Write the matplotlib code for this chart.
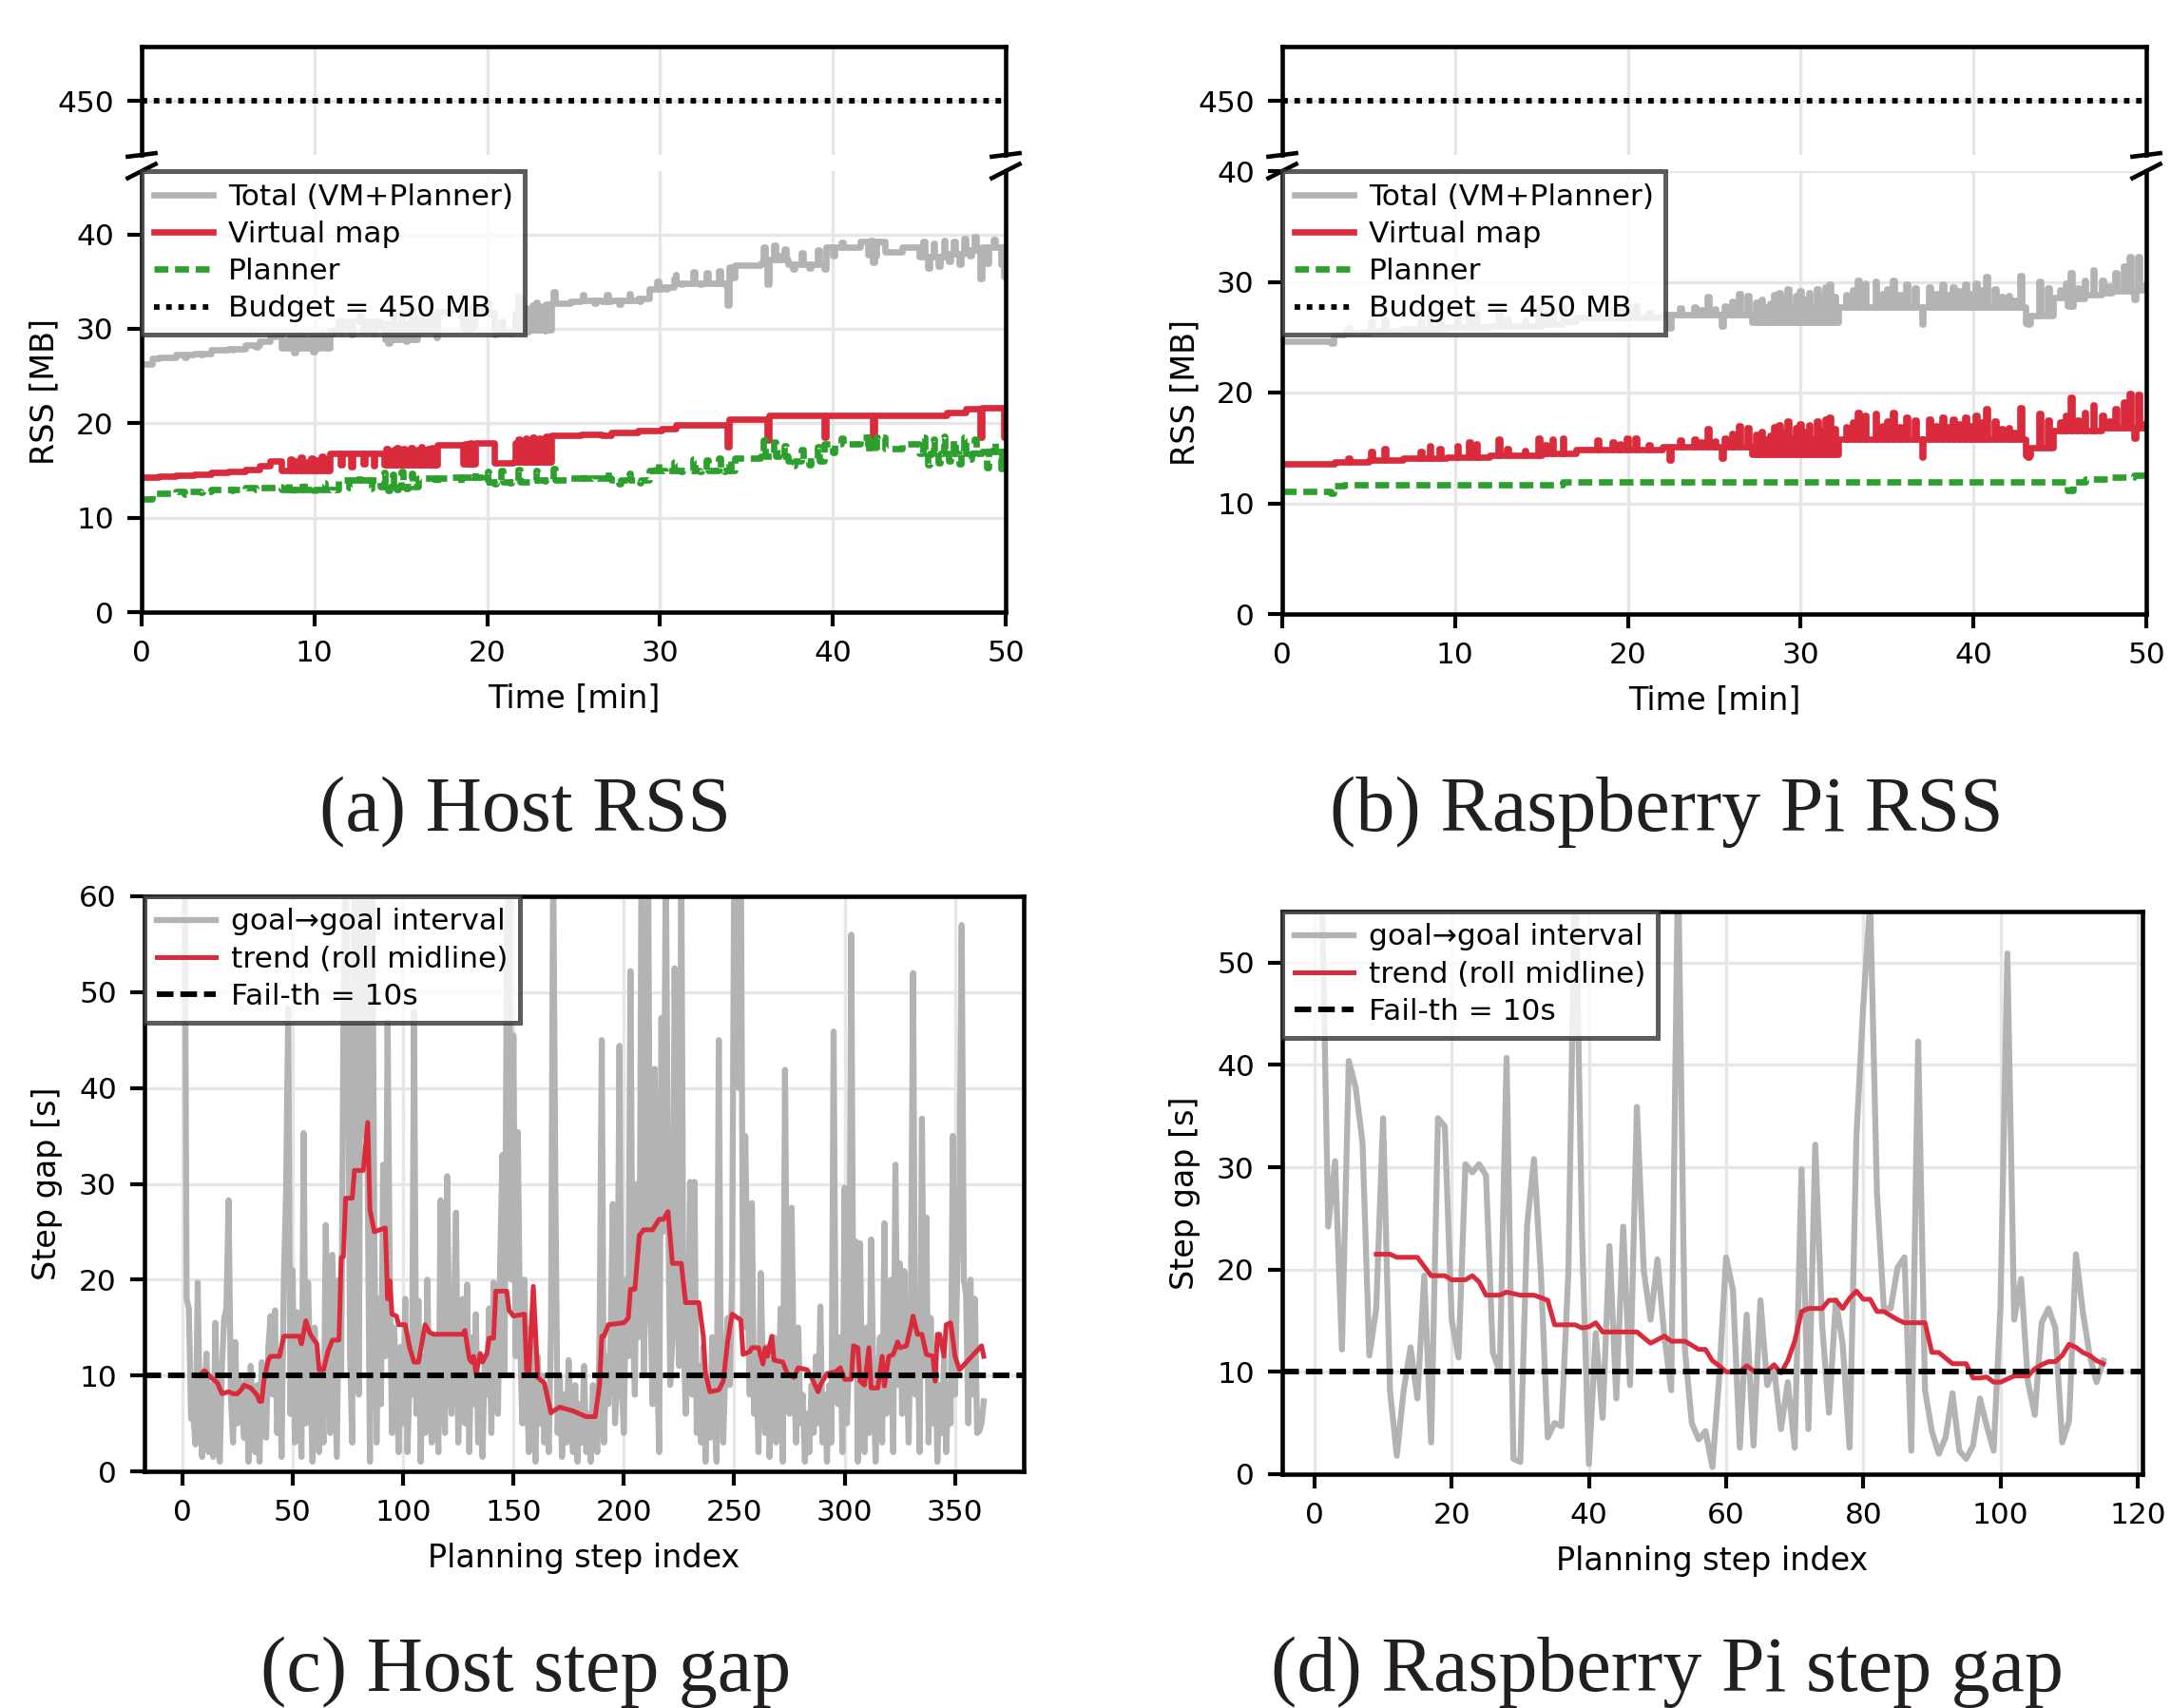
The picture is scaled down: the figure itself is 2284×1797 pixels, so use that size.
import numpy as np
import matplotlib
matplotlib.use("Agg")
import matplotlib.pyplot as plt
from matplotlib.lines import Line2D

# ------------------------------------------------------------------ data
# (a) Host RSS  -- step series: base levels + short excursions (spikes)
host_vm_base_t = [0, 1, 2, 3, 4, 5, 6, 6.8, 7.4, 8.1, 10.9, 14.0, 17.1, 18.6, 19.3, 20.4,
                  21.5, 23.7, 25.4, 26.6, 27.2, 28.7, 30.1, 30.9, 33.9, 36.2, 46.6, 47.7, 48.5]
host_vm_base_v = [14.3, 14.4, 14.5, 14.6, 14.75, 14.9, 15.05, 15.5, 16.0, 15.0, 16.8, 15.6, 17.7,
                  15.7, 17.9, 15.8, 15.9, 18.7, 18.85, 18.7, 19.0, 19.25, 19.45, 19.85, 20.45,
                  20.8, 21.1, 21.5, 21.6]
host_vm_spike_t = [8.6, 8.9, 9.2, 9.5, 9.8, 10.1, 10.4, 10.7,
                   11.5, 12.1, 12.8, 13.4,
                   14.15, 14.35, 14.55, 14.75, 14.95, 15.15, 15.35, 15.55, 15.75, 15.95, 16.15,
                   16.35, 16.55, 16.75, 16.95,
                   18.7, 18.85, 19.0, 19.15,
                   21.6, 21.8, 22.0, 22.2, 22.4, 22.6, 22.8, 23.0, 23.2, 23.4, 23.55,
                   33.9, 36.2, 39.5, 42.3, 48.5, 49.9]
host_vm_spike_v = [16.2, 16.0, 16.4, 15.9, 16.3, 16.1, 16.5, 16.2,
                   15.6, 15.4, 15.7, 15.5,
                   17.3, 16.9, 17.2, 17.4, 16.8, 17.3, 17.1, 17.4, 16.9, 17.2, 17.5,
                   17.0, 17.3, 17.4, 17.1,
                   17.8, 17.5, 17.9, 17.6,
                   17.9, 18.3, 17.6, 18.4, 18.0, 18.5, 17.8, 18.4, 18.1, 18.6, 18.0,
                   17.5, 18.2, 18.5, 18.5, 18.5, 18.5]

host_pl_base_t = [0, 0.6, 2, 4, 6, 7.8, 8.1, 11.4, 13.8, 16.0, 17.8, 19.7, 22.5, 24.8, 27.2,
                  29.4, 31.6, 34.3, 35.8, 37.4, 39.5, 41.6, 43.0, 44.0, 45.0, 48.6]
host_pl_base_v = [12.0, 12.6, 12.8, 13.0, 13.2, 13.3, 13.0, 14.0, 13.3, 14.15, 14.3, 13.8, 14.0,
                  14.2, 14.0, 15.0, 15.0, 16.3, 16.5, 16.0, 17.8, 18.5, 17.3, 17.8, 16.8, 17.0]
host_pl_spike_t = [2.5, 3.4, 5.2, 6.6,
                   8.4, 8.8, 9.3, 9.9, 10.5, 11.0,
                   12.0, 12.6, 13.2,
                   14.0, 14.25, 14.5, 14.75, 15.0, 15.3, 15.6,
                   17.0, 18.5, 19.2,
                   20.0, 20.4, 20.8, 21.3, 21.8, 22.3, 22.8, 23.3, 23.8, 24.3,
                   25.5, 26.2, 26.9, 27.6, 28.2, 28.8,
                   29.8, 30.3, 30.8, 31.2,
                   31.9, 32.3, 32.7, 33.0, 33.4, 33.7, 34.0,
                   36.0, 36.3, 36.6, 36.9, 37.2,
                   37.7, 38.2, 38.6, 39.1,
                   40.0, 40.5, 42.0, 42.2, 42.4, 42.6,
                   45.2, 45.5, 45.8, 46.1, 46.4, 46.7, 47.0, 47.3, 47.6, 47.9, 48.2,
                   48.9, 49.3, 49.7]
host_pl_spike_v = [12.5, 12.7, 12.9, 13.0,
                   13.8, 12.5, 13.9, 12.6, 13.7, 12.7,
                   13.2, 14.6, 13.1,
                   14.8, 12.9, 14.6, 13.0, 14.9, 13.1, 14.7,
                   13.5, 13.6, 14.8,
                   14.9, 13.6, 15.0, 13.7, 15.1, 13.8, 15.0, 13.9, 15.2, 14.0,
                   14.8, 13.9, 14.9, 13.6, 14.7, 13.7,
                   15.8, 14.8, 15.9, 14.9,
                   16.2, 14.9, 16.1, 15.0, 16.3, 14.9, 16.1,
                   18.2, 16.5, 18.0, 16.9, 17.6,
                   15.5, 17.2, 15.6, 17.5,
                   16.9, 18.4, 17.0, 18.6, 16.9, 18.4,
                   18.5, 15.6, 18.3, 15.8, 18.6, 16.0, 18.2, 15.7, 18.5, 16.2, 18.3,
                   15.3, 17.9, 15.2]

# (b) Raspberry Pi RSS
pi_vm_base_t = [0, 3, 5, 7, 9.5, 12, 15, 17, 22, 27.2, 32.2, 43.0, 43.3, 44.6, 47.5]
pi_vm_base_v = [13.55, 13.7, 13.9, 14.05, 14.2, 14.35, 14.5, 14.85, 15.1, 14.4, 15.8, 14.3,
                15.0, 16.6, 16.8]
pi_vm_spike_t = [3.8, 5.1, 5.9, 8.0, 8.5, 9.1, 10.1, 10.8, 11.2, 12.5, 13.0, 14.0, 14.8, 15.2,
                 15.6, 16.2, 18.2, 19.1, 19.5, 19.9, 20.4, 21.2, 23.0, 23.8, 24.2, 24.6, 25.0,
                 25.6, 26.0, 26.4, 26.9,
                 27.4, 27.7, 27.95, 28.2, 28.45, 28.7, 28.95, 29.2, 29.45, 29.7, 29.95, 30.2,
                 30.45, 30.7, 30.9, 31.15, 31.4, 31.65, 31.9,
                 32.6, 33.0, 33.3, 33.7, 34.3, 34.7, 35.0, 35.3, 35.7, 36.1, 36.6, 37.4, 37.8,
                 38.2, 38.5, 38.8, 39.1, 39.5, 39.8, 40.1, 40.4, 40.7, 41.2, 41.6, 42.0, 42.3,
                 42.7, 43.8, 44.3,
                 45.0, 45.3, 45.6, 46.0, 46.4, 46.9, 47.4, 47.8, 48.2, 48.7, 49.0, 49.3, 49.5,
                 49.75,
                 22.4, 25.4, 37.0, 43.15]
pi_vm_spike_v = [14.1, 14.7, 14.9, 14.7, 15.2, 14.9, 15.2, 15.5, 15.4, 15.8, 14.9, 14.8, 15.9,
                 15.3, 15.8, 15.9, 15.7, 15.5, 15.4, 15.9, 15.9, 15.3, 15.7, 15.8, 15.5, 16.7,
                 15.6, 15.9, 16.3, 17.0, 16.8,
                 16.2, 16.5, 15.8, 16.1, 16.9, 17.1, 16.4, 17.4, 15.9, 16.8, 17.2, 16.5,
                 17.1, 15.8, 17.4, 16.6, 17.6, 17.8, 16.7,
                 16.9, 17.3, 18.2, 17.9, 18.1, 17.0, 17.4, 18.2, 16.9, 17.8, 17.5, 17.6, 17.0,
                 17.8, 16.9, 17.6, 17.2, 17.8, 17.0, 17.9, 17.3, 18.5, 17.4, 16.7, 16.8, 16.4,
                 18.6, 18.1, 17.5,
                 17.3, 17.9, 19.6, 17.5, 18.2, 18.9, 17.9, 17.4, 18.5, 19.1, 19.9, 15.9, 19.8,
                 17.2,
                 13.9, 14.1, 14.2, 14.2]

pi_pl_base_t = [0, 2.8, 2.95, 3.6, 16.2, 45.45, 45.75, 46.5, 48.0, 49.3]
pi_pl_base_v = [11.05, 10.9, 11.55, 11.7, 11.95, 11.2, 11.9, 12.2, 12.35, 12.5]
pi_pl_spike_t = []
pi_pl_spike_v = []

budget_mb = 450

# (c) Host step gap, planning step index 1..363
host_gap = [
    70, 18, 17, 5.5, 6, 2.8, 19.7, 6, 1.5, 8,
    12.3, 2, 9, 1.5, 15.5, 4, 1, 11, 16, 17,
    28.3, 8, 3, 13.5, 5, 9.5, 7, 3.5, 10, 1,
    11, 6, 2, 9, 1, 11.4, 5, 3.5, 13, 16.2,
    8, 16.8, 4, 12, 1.5, 20, 29, 48.3, 6, 21,
    3, 16.6, 8, 1.5, 35.3, 5, 19.7, 10, 1, 15,
    7, 2, 11, 3, 25.7, 14, 4, 22.6, 12, 1.5,
    20, 10, 47.5, 65, 50, 12, 3, 65, 20, 8,
    65, 35, 65, 30, 1, 65, 25, 3, 18, 7,
    32, 12, 47, 20.6, 4, 15, 9, 2, 13, 5,
    18, 2, 10, 8, 47.9, 6, 17.8, 1, 12, 4,
    20, 7, 3, 14, 9, 2, 28.3, 10, 4, 30.8,
    12, 6, 16, 27, 3, 11, 18, 5, 19.5, 2,
    14, 7, 16.4, 3, 10, 1.5, 12, 8, 17, 4,
    19.7, 9, 6, 22, 33, 10, 55, 65, 20, 45.5,
    12, 35.4, 14, 5, 20, 9, 2, 15, 7, 1,
    12, 5, 10, 3, 8, 2, 15, 65, 30, 4,
    10, 1.5, 8, 3, 11.6, 5, 2, 9, 1, 7,
    3, 11, 2, 6, 1, 9, 4, 2, 14, 45,
    3, 12, 7, 14, 27.9, 5, 10, 44.4, 9, 4,
    20, 12, 52.2, 16, 8, 30, 14, 65, 10, 22,
    65, 18, 7, 42, 12, 2, 47.3, 25, 65, 30,
    9, 14, 52.5, 20, 11, 65, 15, 6, 12, 30.2,
    8, 30.2, 4, 11, 3, 13, 1, 9, 3.5, 14,
    6, 1, 45, 8, 3, 11, 16, 9, 20, 65,
    65, 40, 65, 15, 35, 20, 8, 28, 6, 12,
    2, 20.7, 10, 4, 13, 1.5, 9, 14, 3, 7,
    17, 1, 41.9, 12, 6, 27.5, 10, 3, 15, 5,
    8, 1, 6, 2, 9, 4, 12, 5, 17.2, 3,
    8, 1, 9, 3, 45.9, 10, 7, 14, 2, 29.6,
    5, 12, 56, 11, 24, 1, 23.8, 6, 2, 15,
    4, 24.2, 10, 1, 8, 14, 3, 25.9, 6, 10,
    20, 2, 32, 9, 21.7, 6, 20.9, 12, 3, 18,
    52, 8, 14, 2, 36.8, 10, 26.5, 3, 16, 5,
    13, 1, 9, 4, 12, 2, 9, 5, 35, 8,
    20.7, 30, 57, 20, 18.4, 5, 20, 8, 18, 4,
    4.2, 5, 7.3]
host_trend_x = [8, 10, 11, 13, 16, 18, 21, 23, 25, 27, 28, 30, 31, 33, 34, 35, 36, 37, 39, 40,
                44, 46, 53, 54, 56, 58, 60, 61, 62, 64, 66, 68, 71, 72, 73, 74, 77, 78, 82, 84,
                85, 87, 92, 93, 94, 95, 97, 98, 101, 103, 105, 107, 110, 112, 114, 127, 128,
                130, 131, 132, 133, 135, 136, 138, 139, 141, 142, 147, 148, 150, 155, 156, 157,
                159, 161, 164, 167, 168, 171, 177, 183, 187, 189, 190, 191, 193, 200, 202, 203,
                205, 207, 209, 213, 216, 218, 220, 222, 226, 228, 234, 236, 237, 239, 243, 245,
                247, 249, 253, 254, 257, 258, 261, 263, 264, 265, 267, 268, 272, 274, 277, 279,
                283, 285, 288, 289, 292, 296, 298, 300, 303, 304, 306, 307, 309, 311, 312, 315,
                317, 318, 320, 322, 324, 325, 328, 330, 331, 333, 335, 337, 340, 341, 342, 343,
                345, 346, 348, 350, 352, 362, 363]
host_trend_y = [10.0, 10.5, 10.3, 9.8, 9.2, 8.1, 8.3, 8.1, 8.1, 8.6, 9.0, 8.8, 8.7, 8.2, 7.9,
                7.3, 7.3, 9.5, 11.6, 12.0,
                12.0, 14.1, 14.1, 13.3, 15.7, 14.3, 13.6, 13.3, 10.6, 10.6, 12.5, 13.7, 13.7,
                22.3, 22.4, 28.5, 28.5, 31.4, 31.4, 36.4,
                27.3, 25.0, 25.4, 18.0, 19.9, 16.4, 16.2, 15.3, 15.3, 12.9, 11.4, 11.4, 15.3,
                14.5, 14.3, 14.3, 14.7,
                11.8, 11.4, 12.0, 10.2, 12.3, 11.4, 12.3, 13.9, 13.9, 18.8, 18.8, 16.8, 16.2,
                16.4, 10.2, 10.2,
                19.3, 9.8, 9.2, 6.1, 6.3, 6.7, 6.3, 5.7, 5.7, 9.0, 14.1, 14.1, 15.3, 15.5, 16.0,
                19.0,
                19.0, 24.6, 25.2, 25.2, 26.3, 26.3, 27.1, 21.7, 21.7, 17.6, 17.6, 14.1, 10.2,
                8.3, 8.5, 9.4,
                13.5, 16.4, 15.8, 12.2, 12.5, 12.9, 12.9, 11.2, 12.9, 12.0, 14.1, 11.6, 11.4,
                10.2, 9.8, 10.8,
                10.6, 9.8, 8.3, 9.0, 10.2, 10.4, 10.8, 9.6, 9.6, 13.1, 12.9, 9.4, 9.0, 12.9,
                8.7, 8.7,
                12.0, 8.9, 12.0, 12.2, 13.5, 12.9, 13.1, 15.1, 16.2, 14.3, 14.3, 12.2, 12.0,
                9.4, 14.3, 14.3,
                12.0, 15.3, 15.5, 12.0, 10.6, 13.1, 12.0]

# (d) Raspberry Pi step gap, planning step index 1..115
pi_gap = [
    60, 24.2, 30.6, 12.2, 40.4, 37.8, 32.4, 11.6, 16.2, 34.8,
    8.2, 1.8, 8.2, 12.4, 7.4, 19.4, 3.1, 34.8, 34, 15.1,
    11.4, 30.3, 29.5, 30.3, 29.2, 11.9, 10, 40.7, 1.5, 1.2,
    24.4, 30.8, 19.6, 3.6, 5, 4.7, 19.6, 60, 23.4, 1,
    13.8, 5.5, 22.3, 7.4, 24.2, 8.7, 35.9, 19.9, 15.1, 21,
    13.5, 8.2, 60, 12.2, 5, 3.4, 4.2, 0.7, 9.5, 21.2,
    18, 2.6, 15.6, 2.8, 17, 8.7, 10.3, 4.4, 9, 2.6,
    29.8, 4.4, 32.2, 14.6, 6, 17, 12.7, 2.6, 33, 45.8,
    56, 27.4, 16.2, 16.2, 20.2, 21.2, 2.3, 42.3, 8.2, 4.2,
    2, 3.6, 7.9, 2.3, 1.5, 2.8, 7.4, 4.7, 2.3, 16.4,
    50.9, 15.1, 19.1, 9, 5.8, 14.8, 16.2, 14.3, 3.1, 5.2,
    21.5, 15.9, 11.6, 9, 11.1]
pi_trend_x = [9, 11, 12, 15, 17, 19, 20, 22, 23, 24, 25, 27, 28, 30, 32, 34, 35, 37, 38, 39, 40,
              41, 42, 47, 49, 51, 52, 54, 55, 56, 57, 58, 59, 60, 62, 63, 64, 66, 67, 68, 69, 70,
              71, 72, 74, 75, 76, 77, 78, 79, 80, 81, 82, 83, 85, 86, 89, 90, 91, 93, 95, 96,
              97, 98, 99, 100, 102, 104, 105, 106, 107, 108, 109, 110, 111, 112, 113, 114, 115]
pi_trend_y = [21.5, 21.5, 21.2, 21.2, 19.4, 19.4, 19.0, 19.0, 19.4, 18.8, 17.5, 17.5, 17.8, 17.5,
              17.5, 17.0, 14.6, 14.6, 14.6, 14.3, 14.4, 14.8, 13.9, 13.9, 12.8, 13.5, 13.0,
              13.0, 12.6, 12.2, 12.2, 11.1, 10.6, 10.0, 10.0, 10.6, 10.1, 10.1, 10.7, 9.9,
              11.1, 13.0, 15.9, 16.2, 16.2, 17.0, 17.0, 16.2, 17.2, 17.9, 17.1, 17.1, 15.9,
              15.9, 15.1, 14.8, 14.8, 11.9, 11.9, 10.8, 10.8, 9.4, 9.4, 9.5, 9.0, 9.0, 9.6, 9.6,
              10.3, 10.7, 11.0, 11.0, 11.6, 12.7, 12.4, 11.9, 11.6, 11.1, 10.8]
fail_th = 10

captions = ["(a) Host RSS", "(b) Raspberry Pi RSS", "(c) Host step gap",
            "(d) Raspberry Pi step gap"]

# ------------------------------------------------------------------ helpers
T_END = 50.0


def step_series(base_t, base_v, spike_t, spike_v, w=0.1):
    bt = np.asarray(base_t, float)
    bv = np.asarray(base_v, float)
    st = np.asarray(spike_t, float)
    sv = np.asarray(spike_v, float)
    ev = np.unique(np.concatenate([bt, st, st + w, [T_END]]))
    ev = ev[(ev >= 0) & (ev <= T_END)]
    vals = bv[np.searchsorted(bt, ev, side="right") - 1]
    for a, v in zip(st, sv):
        m = (ev >= a - 1e-9) & (ev < a + w - 1e-9)
        vals[m] = v
    return ev, vals


def eval_step(t, v, q):
    return np.asarray(v)[np.searchsorted(t, q, side="right") - 1]


GREY = "#b3b3b3"
RED = "#d92b3c"
GREEN = "#2ca02c"

plt.rcParams.update({
    "font.family": ["DejaVu Sans"],
    "font.size": 7.5,
    "axes.linewidth": 1.1,
    "xtick.major.width": 1.0,
    "ytick.major.width": 1.0,
    "xtick.major.size": 3.5,
    "ytick.major.size": 3.5,
    "xtick.labelsize": 7.5,
    "ytick.labelsize": 7.5,
    "axes.labelsize": 8,
    "legend.fontsize": 7.5,
})

W, H = 2284, 1797
fig = plt.figure(figsize=(W / 300, H / 300), dpi=300)


def px_axes(x0, x1, y0, y1):
    return fig.add_axes([x0 / W, 1 - y1 / H, (x1 - x0) / W, (y1 - y0) / H])


def style_grid(ax):
    ax.grid(True, color="#e6e6e6", lw=0.8)
    ax.set_axisbelow(True)


def legend_box(ax, handles, labels):
    leg = ax.legend(handles, labels, loc="upper left", borderaxespad=0, fancybox=False,
                    edgecolor="#333333", framealpha=0.8, labelspacing=0.33,
                    handlelength=2.0, handletextpad=0.5, borderpad=0.4)
    leg.get_frame().set_linewidth(1.2)
    return leg


def rss_panel(xa, top_y, bot_y, ylim_top, yticks, vm, pl):
    ax_t = px_axes(xa[0], xa[1], top_y[0], top_y[1])
    ax_b = px_axes(xa[0], xa[1], bot_y[0], bot_y[1])
    vm_t, vm_v = step_series(*vm)
    pl_t, pl_v = step_series(*pl)
    tot_t = np.union1d(vm_t, pl_t)
    tot_v = eval_step(vm_t, vm_v, tot_t) + eval_step(pl_t, pl_v, tot_t)
    ls_pl = (0, (2.2, 1.05))
    h1, = ax_b.plot(tot_t, tot_v, drawstyle="steps-post", color=GREY, lw=1.6)
    h2, = ax_b.plot(vm_t, vm_v, drawstyle="steps-post", color=RED, lw=1.6)
    h3, = ax_b.plot(pl_t, pl_v, drawstyle="steps-post", color=GREEN, lw=1.6, ls=ls_pl)
    ls_b = (0, (1, 1.2))
    ax_t.axhline(budget_mb, color="k", ls=ls_b, lw=1.4)
    h4 = Line2D([], [], color="k", ls=ls_b, lw=1.4)
    for ax in (ax_t, ax_b):
        ax.set_xlim(0, 50)
        style_grid(ax)
    ax_t.set_ylim(445, 455)
    ax_t.set_yticks([budget_mb])
    ax_t.set_xticks(np.arange(0, 51, 10))
    ax_t.tick_params(axis="x", bottom=False, labelbottom=False)
    ax_t.spines["bottom"].set_visible(False)
    ax_b.spines["top"].set_visible(False)
    ax_b.set_ylim(0, ylim_top)
    ax_b.set_yticks(yticks)
    ax_b.set_xticks(np.arange(0, 51, 10))
    ax_b.set_xlabel("Time [min]")
    ax_b.set_ylabel("RSS [MB]")
    d = 0.016
    kw = dict(color="k", clip_on=False, lw=1.1)
    ax_t.plot((-d, d), (-d, d), transform=ax_t.transAxes, **kw)
    ax_t.plot((1 - d, 1 + d), (-d, d), transform=ax_t.transAxes, **kw)
    ax_b.plot((-d, d), (1 - d, 1 + d), transform=ax_b.transAxes, **kw)
    ax_b.plot((1 - d, 1 + d), (1 - d, 1 + d), transform=ax_b.transAxes, **kw)
    legend_box(ax_b, [h1, h2, h3, h4],
               ["Total (VM+Planner)", "Virtual map", "Planner", f"Budget = {budget_mb} MB"])


def gap_panel(xa, ya, gap, tx, ty, ylim_top, yticks, xticks):
    ax = px_axes(xa[0], xa[1], ya[0], ya[1])
    idx = np.arange(1, len(gap) + 1)
    h1, = ax.plot(idx, gap, color=GREY, lw=1.5)
    h2, = ax.plot(tx, ty, color=RED, lw=1.2)
    h3 = ax.axhline(fail_th, color="k", ls=(0, (3.0, 1.25)), lw=1.4)
    n = len(gap)
    m = 0.05 * (n - 1)
    ax.set_xlim(1 - m, n + m)
    ax.set_ylim(0, ylim_top)
    ax.set_yticks(yticks)
    ax.set_xticks(xticks)
    style_grid(ax)
    ax.set_xlabel("Planning step index")
    ax.set_ylabel("Step gap [s]")
    legend_box(ax, [h1, h2, h3],
               ["goal\u2192goal interval", "trend (roll midline)", f"Fail-th = {fail_th}s"])


rss_panel((149, 1058), (49, 163), (180, 644), 46.7, np.arange(0, 41, 10),
          (host_vm_base_t, host_vm_base_v, host_vm_spike_t, host_vm_spike_v),
          (host_pl_base_t, host_pl_base_v, host_pl_spike_t, host_pl_spike_v))
rss_panel((1349, 2258), (49, 163), (180, 646), 40, np.arange(0, 41, 10),
          (pi_vm_base_t, pi_vm_base_v, pi_vm_spike_t, pi_vm_spike_v),
          (pi_pl_base_t, pi_pl_base_v, pi_pl_spike_t, pi_pl_spike_v))
gap_panel((152, 1077), (943, 1548), host_gap, host_trend_x, host_trend_y, 60,
          np.arange(0, 61, 10), np.arange(0, 351, 50))
gap_panel((1349, 2254), (959, 1551), pi_gap, pi_trend_x, pi_trend_y, 55,
          np.arange(0, 51, 10), np.arange(0, 121, 20))

cap_kw = dict(ha="center", va="baseline", fontsize=19.7, color="#231f20",
              family=["Liberation Serif", "DejaVu Serif"])
fig.text(552 / W, 1 - 874 / H, captions[0], **cap_kw)
fig.text(1753 / W, 1 - 874 / H, captions[1], **cap_kw)
fig.text(553 / W, 1 - 1779 / H, captions[2], **cap_kw)
fig.text(1754 / W, 1 - 1779 / H, captions[3], **cap_kw)

fig.savefig("out.png", dpi=300, facecolor="white")
